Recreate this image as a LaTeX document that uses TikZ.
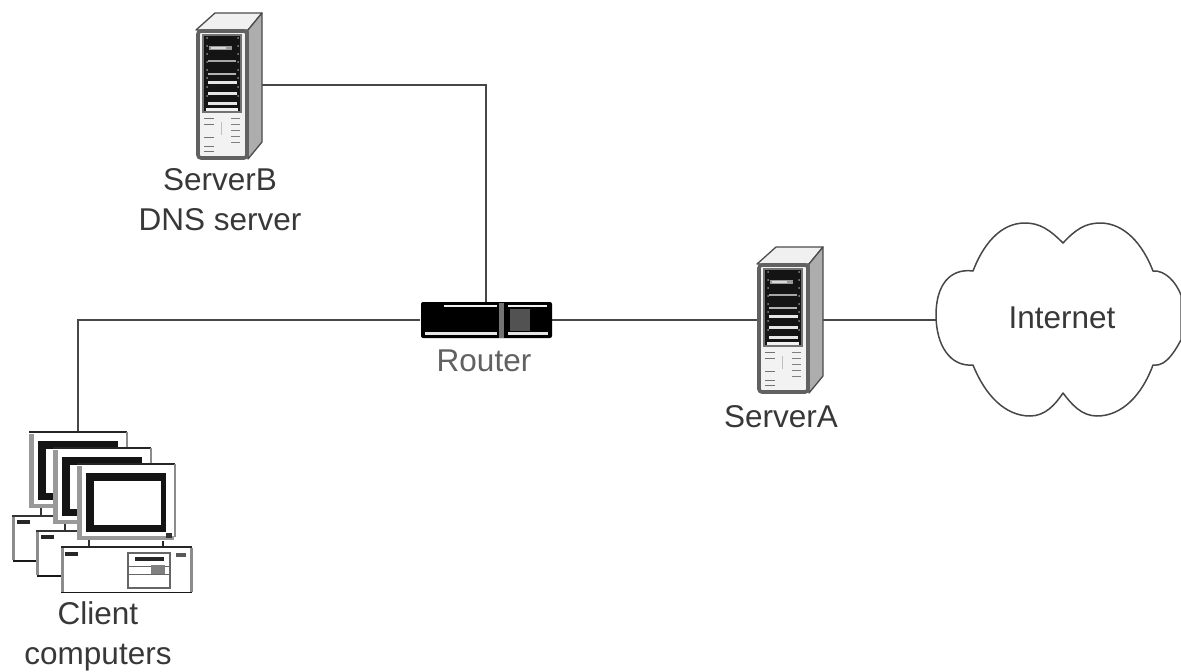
\documentclass[tikz,border=0pt]{standalone}
\usepackage{fontspec}
\setmainfont{Liberation Sans}
\tikzset{
  x=1pt,y=-1pt,
  lbl/.style={font=\fontsize{31.5}{40}\selectfont,text=black!78,inner sep=0pt,align=center},
  wire/.style={draw=black!72,line width=1.8pt},
  holder/.style={inner sep=0pt,outer sep=0pt},
}
\newcommand{\serverart}[2]{%
 \begin{scope}[shift={(#1,#2)}]
  \fill[black!6,draw=black!70,line width=1.3pt,line join=round] (196,30)--(215,13)--(262,13)--(248,30)--cycle;
  \fill[black!32,draw=black!70,line width=1.3pt,line join=round] (248,30)--(262,13)--(262,142)--(248,159)--cycle;
  \fill[black!5,rounded corners=3pt,draw=black!62,line width=3.6pt] (198,31) rectangle (247,158);
  \fill[black!92,draw=black!55,line width=1.2pt] (203,35) rectangle (241,112);
  \fill[black!40] (209,46) rectangle (232,50);
  \fill[black!15] (211,47) rectangle (226,49);
  \fill[black!35] (208,60) rectangle (236,62);
  \fill[black!30] (208,73) rectangle (236,75);
  \fill[black!10] (208,81) rectangle (237,84);
  \fill[black!10] (208,92) rectangle (237,95);
  \fill[black!10] (208,102) rectangle (237,105);
  \fill[black!5] (206,108) rectangle (238,111);
  \foreach \yy in {38,46,54,62,70,78,87,96}{
    \fill[black!45] (207,\yy) circle (1pt);
    \fill[black!45] (238,\yy) circle (1pt);}
  \foreach \yy in {118,124,137,146,151}{\draw[black!55,line width=1pt] (204,\yy)--(214,\yy);}
  \foreach \yy in {118,124,130,136,142}{\draw[black!50,line width=1pt] (231,\yy)--(240,\yy);}
  \draw[black!25,line width=.8pt] (221,122)--(221,135);
 \end{scope}}
\newcommand{\monitorart}[2]{%
 \begin{scope}[shift={(#1,#2)}]
  \fill[white] (29,432) rectangle (127,508);
  \draw[black!40,line width=4.5pt] (31.5,434)--(31.5,506)--(126,506);
  \draw[black!85,line width=1.7pt] (29,432)--(127,432);
  \draw[black!45,line width=1.6pt] (127,432)--(127,505);
  \fill[black!92] (38,441) rectangle (118,449);
  \fill[black!92] (38,441) rectangle (46,500);
  \fill[black!92] (38,493) rectangle (118,500);
  \fill[black!92] (113,441) rectangle (118,500);
  \fill[white] (46,449) rectangle (113,493);
  \draw[black!80,line width=1.7pt] (41,508)--(41,515);
 \end{scope}}
\newcommand{\caseart}[2]{%
 \begin{scope}[shift={(#1,#2)}]
  \fill[white] (12,516) rectangle (143,561);
  \draw[black!45,line width=3pt] (13,517)--(13,560);
  \draw[black!80,line width=1.4pt] (12,516)--(143,516);
  \draw[black!90,line width=1.7pt] (13,561)--(143,561);
  \fill[black!85] (17,520) rectangle (30,524);
 \end{scope}}
\begin{document}
\begin{tikzpicture}
\useasboundingbox (0,0) rectangle (1181,672);
\fill[white] (0,0) rectangle (1181,672);

% invisible holders that connectors attach to
\node[holder,minimum width=66pt,minimum height=146pt] (srvB) at (229,85) {};
\node[holder,minimum width=66pt,minimum height=146pt] (srvA) at (790,320) {};
\node[holder,minimum width=132pt,minimum height=36pt] (router) at (486,320) {};
\coordinate (clientTop) at (78,432);
\coordinate (cloudW) at (936,320);

% connectors
\draw[wire] (srvB.east) -| (router.north);
\draw[wire] (clientTop) |- (router.west);
\draw[wire] (router.east) -- (srvA.west);
\draw[wire] (srvA.east) -- (cloudW);

% servers
\serverart{0}{0}
\serverart{561}{234}

% router
\fill[black,rounded corners=2pt] (421,302) rectangle (552,338);
\fill[black!6] (444,304.5) rectangle (497,307);
\fill[black!6] (508,304.5) rectangle (547,307);
\fill[black!10] (425,332) rectangle (497,335);
\fill[black!10] (508,332) rectangle (548,335);
\fill[black!55] (498.5,303) rectangle (504,338);
\fill[black!68] (510,309) rectangle (530,331);

% client computers
\caseart{0}{0}
\monitorart{0}{0}
\caseart{24}{15}
\monitorart{24}{16}
\monitorart{48}{32}
\begin{scope}
  \fill[black!80] (166,533) rectangle (172,538);
  \fill[white] (61,547) rectangle (192,593);
  \draw[black!45,line width=3pt] (62,548)--(62,592);
  \draw[black!45,line width=3pt] (191,548)--(191,592);
  \draw[black!85,line width=1.4pt] (61,547)--(192,547);
  \draw[black!90,line width=1.7pt] (61,592.5)--(192,592.5);
  \fill[black!85] (65,552) rectangle (78,556);
  \draw[black!85,line width=1.7pt] (163,541)--(163,547);
  \draw[black!60,line width=1.2pt] (128,553) rectangle (170,588);
  \fill[black!85] (135,557) rectangle (164,561);
  \draw[black!60,line width=1pt] (129,566)--(169,566);
  \draw[black!60,line width=1pt] (129,574)--(169,574);
  \fill[black!50] (151,565) rectangle (165,574);
  \fill[black!65] (176,553) rectangle (186,557);
\end{scope}

% cloud
\draw[draw=black!72,line width=1.5pt,fill=white,line join=round] (1063,243)
  .. controls (1050,230) and (1040,223) .. (1025,223)
  .. controls (1000,223) and (983,245) .. (973,271)
  .. controls (950,268) and (936,285) .. (936,315)
  .. controls (936,345) and (950,367) .. (973,365)
  .. controls (985,395) and (1005,416) .. (1030,416)
  .. controls (1045,416) and (1055,405) .. (1063,393)
  .. controls (1072,405) and (1082,416) .. (1097,416)
  .. controls (1122,416) and (1142,395) .. (1153,365)
  .. controls (1167,368) and (1178,345) .. (1181,340)
  -- (1181,295)
  .. controls (1176,282) and (1165,270) .. (1153,271)
  .. controls (1143,245) and (1125,223) .. (1100,223)
  .. controls (1085,223) and (1075,230) .. (1063,243) -- cycle;

% labels
\node[lbl] (lblB) at (220,200) {ServerB\\DNS server};
\node[lbl,text=black!62] (lblR) at (484,361) {Router};
\node[lbl] (lblA) at (781,417) {ServerA};
\node[lbl] (lblI) at (1062,318) {Internet};
\node[lbl] (lblC) at (98,636.5) {Client\\computers};
\end{tikzpicture}
\end{document}
